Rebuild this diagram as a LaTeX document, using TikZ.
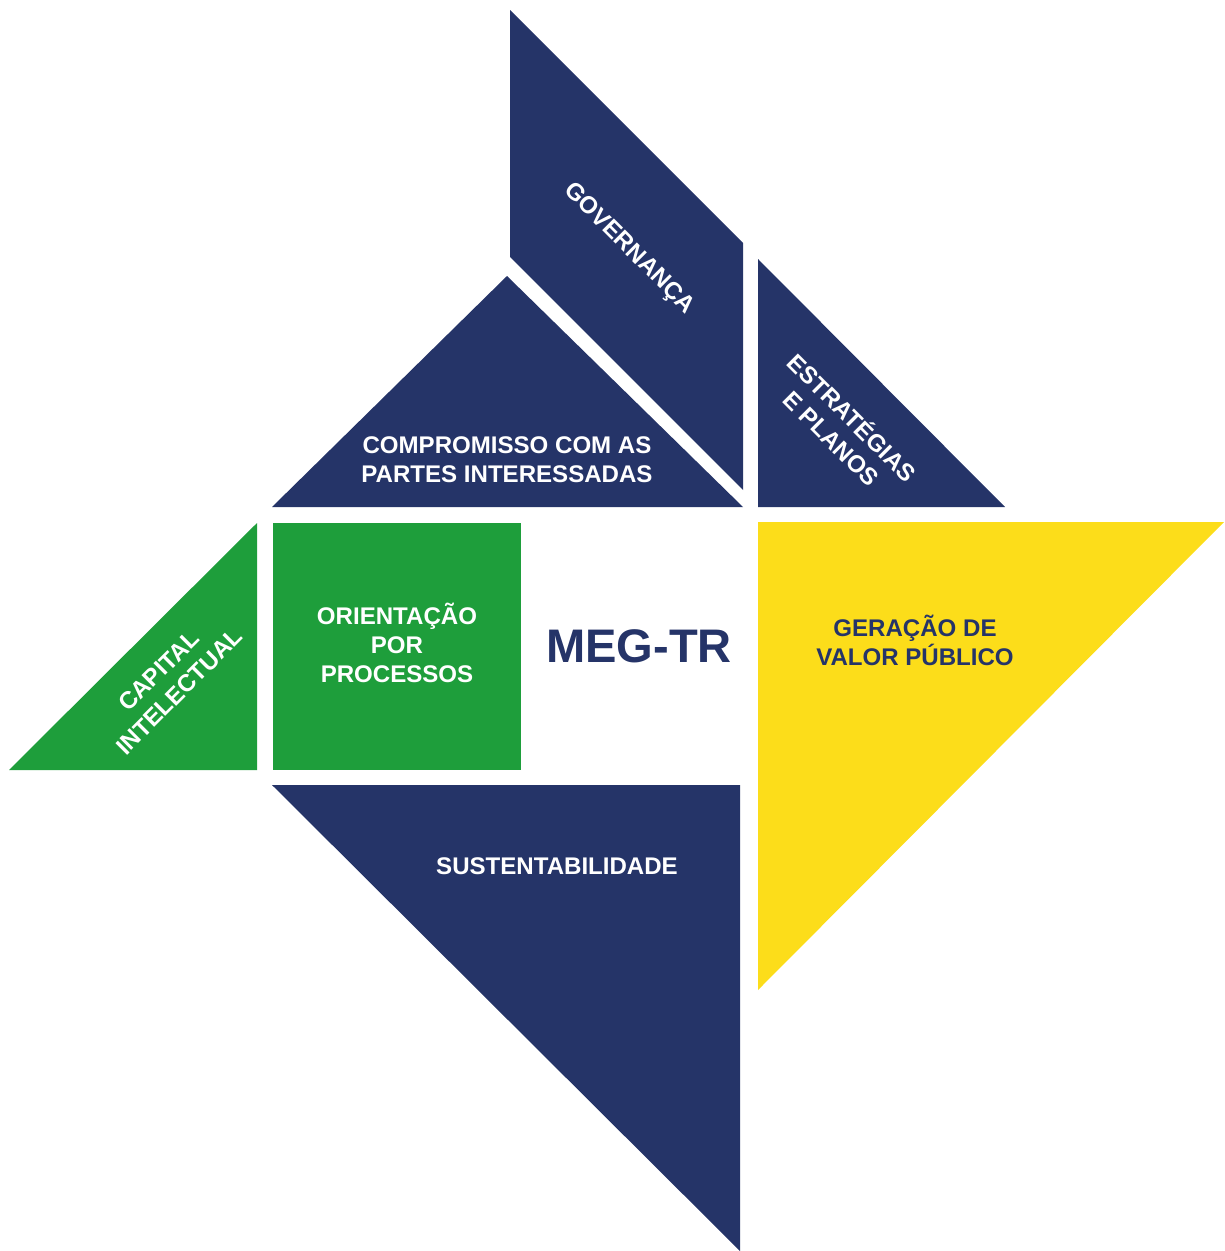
\documentclass[tikz,border=0pt]{standalone}
\usepackage{fontspec}
\setmainfont{Liberation Sans}
\definecolor{megblue}{RGB}{37,52,104}
\definecolor{meggreen}{RGB}{30,158,59}
\definecolor{megyellow}{RGB}{252,221,26}
\begin{document}
\begin{tikzpicture}[x=0.02cm, y=-0.02cm]
    \tikzstyle{bluepiece} = [fill=megblue]
    \tikzstyle{greenpiece} = [fill=meggreen]
    \tikzstyle{yellowpiece} = [fill=megyellow]
    \tikzstyle{piecetext} = [text=white, font=\bfseries\fontsize{13.7}{16.5}\selectfont, align=center, inner sep=0pt]

    \useasboundingbox (0,0) rectangle (1224,1251);

    % pieces
    \path [bluepiece] (510,10) -- (743,243) -- (743,490) -- (510,257) -- cycle;
    \path [bluepiece] (507,276) -- (743,507) -- (272,507) -- cycle;
    \path [bluepiece] (758,259) -- (1005,507) -- (758,507) -- cycle;
    \path [greenpiece] (257,523) -- (257,770) -- (9,770) -- cycle;
    \path [greenpiece] (273,523) rectangle (521,770);
    \path [yellowpiece] (758,522) -- (1224,522) -- (758,990) -- cycle;
    \path [bluepiece] (272,785) -- (740,785) -- (740,1251) -- cycle;

    % texts
    \node [piecetext, rotate=-45] (gov) at (629,249) {GOVERNANÇA};
    \node [piecetext, rotate=-45] (estr) at (843,427) {ESTRATÉGIAS\\E PLANOS};
    \node [piecetext] (comp) at (507,460) {COMPROMISSO COM AS\\PARTES INTERESSADAS};
    \node [piecetext, rotate=45] (cap) at (169,681) {CAPITAL\\INTELECTUAL};
    \node [piecetext] (orient) at (397,643) {ORIENTAÇÃO\\POR\\PROCESSOS};
    \node [piecetext, text=megblue] (valor) at (915,640) {GERAÇÃO DE\\VALOR PÚBLICO};
    \node [piecetext] (sust) at (557,866) {SUSTENTABILIDADE};
    \node [text=megblue, font=\bfseries\fontsize{26.8}{30}\selectfont, inner sep=0pt] (meg) at (639,646) {MEG-TR};
\end{tikzpicture}
\end{document}
